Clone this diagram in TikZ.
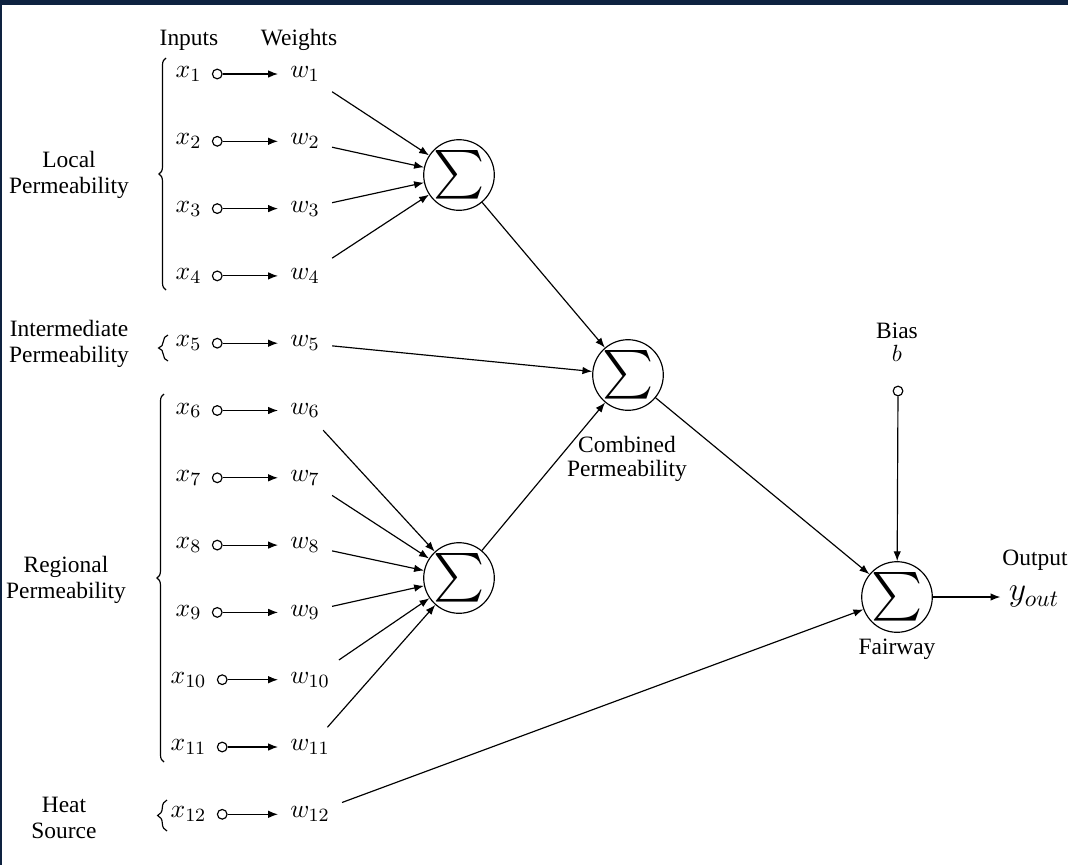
\documentclass[tikz,border=0pt]{standalone}
\usepackage[no-math]{fontspec}
\setmainfont{Liberation Serif}
\usepackage{amsmath}
\usepackage{exscale}
\usepackage{tikz}
\usetikzlibrary{arrows.meta, positioning, decorations.pathreplacing}
\definecolor{Frame_Navy}{HTML}{0E2240}

\begin{document}
\begin{tikzpicture}[x=0.015cm, y=-0.015cm, >={Latex[length=4.2pt,width=3.2pt]}, line width=0.5pt,
    sumnode/.style={draw, circle, minimum size=1.05cm, inner sep=0pt, font=\fontsize{19.5}{19.5}\selectfont},
    dot/.style={draw, circle, minimum size=0.145cm, inner sep=0pt},
    inp/.style={inner sep=1pt, font=\fontsize{11}{13}\selectfont},
    wgt/.style={anchor=west, inner sep=5pt, font=\fontsize{11}{13}\selectfont},
    lbl/.style={align=center, font=\fontsize{10}{11}\selectfont},
    grp/.style={decorate, decoration={brace, amplitude=3pt}}]
    \useasboundingbox (0,0) rectangle (1068,865);
    % Frame
    \fill[Frame_Navy] (0,0) rectangle (1068,5);
    \fill[Frame_Navy] (0,0) rectangle (2,865);
    % Headers
    \node (hin) at (189,40) {Inputs};
    \node (hw) at (299,40) {Weights};
    % Inputs and weights
    \node[inp] (x1) at (188.5,74.0) {$x_1$}; \node[dot, right=3.2pt of x1] (d1) {}; \node[wgt] (w1) at (278,74.0) {$w_1$}; \draw[->] (d1) -- (w1);
    \node[inp] (x2) at (188.5,141.3) {$x_2$}; \node[dot, right=3.2pt of x2] (d2) {}; \node[wgt] (w2) at (278,141.3) {$w_2$}; \draw[->] (d2) -- (w2);
    \node[inp] (x3) at (188.5,208.6) {$x_3$}; \node[dot, right=3.2pt of x3] (d3) {}; \node[wgt] (w3) at (278,208.6) {$w_3$}; \draw[->] (d3) -- (w3);
    \node[inp] (x4) at (188.5,275.9) {$x_4$}; \node[dot, right=3.2pt of x4] (d4) {}; \node[wgt] (w4) at (278,275.9) {$w_4$}; \draw[->] (d4) -- (w4);
    \node[inp] (x5) at (188.5,343.2) {$x_5$}; \node[dot, right=3.2pt of x5] (d5) {}; \node[wgt] (w5) at (278,343.2) {$w_5$}; \draw[->] (d5) -- (w5);
    \node[inp] (x6) at (188.5,410.5) {$x_6$}; \node[dot, right=3.2pt of x6] (d6) {}; \node[wgt] (w6) at (278,410.5) {$w_6$}; \draw[->] (d6) -- (w6);
    \node[inp] (x7) at (188.5,477.8) {$x_7$}; \node[dot, right=3.2pt of x7] (d7) {}; \node[wgt] (w7) at (278,477.8) {$w_7$}; \draw[->] (d7) -- (w7);
    \node[inp] (x8) at (188.5,545.1) {$x_8$}; \node[dot, right=3.2pt of x8] (d8) {}; \node[wgt] (w8) at (278,545.1) {$w_8$}; \draw[->] (d8) -- (w8);
    \node[inp] (x9) at (188.5,612.4) {$x_9$}; \node[dot, right=3.2pt of x9] (d9) {}; \node[wgt] (w9) at (278,612.4) {$w_9$}; \draw[->] (d9) -- (w9);
    \node[inp] (x10) at (188.5,679.7) {$x_{10}$}; \node[dot, right=3.2pt of x10] (d10) {}; \node[wgt] (w10) at (278,679.7) {$w_{10}$}; \draw[->] (d10) -- (w10);
    \node[inp] (x11) at (188.5,747.0) {$x_{11}$}; \node[dot, right=3.2pt of x11] (d11) {}; \node[wgt] (w11) at (278,747.0) {$w_{11}$}; \draw[->] (d11) -- (w11);
    \node[inp] (x12) at (188.5,814.3) {$x_{12}$}; \node[dot, right=3.2pt of x12] (d12) {}; \node[wgt] (w12) at (278,814.3) {$w_{12}$}; \draw[->] (d12) -- (w12);
    % Groups
    \draw[grp] (166,290) -- (166,58);
    \draw[grp, decoration={amplitude=4pt}] (168,361) -- (168,335);
    \draw[grp] (164,762) -- (164,394);
    \draw[grp, decoration={amplitude=4pt}] (167,831) -- (167,800);
    \node[lbl] (local) at (69,175) {Local\\Permeability};
    \node[lbl] (inter) at (69,344) {Intermediate\\Permeability};
    \node[lbl] (regional) at (66,580) {Regional\\Permeability};
    \node[lbl] (heat) at (64,818) {Heat\\Source};
    % Summing nodes
    \node[sumnode] (sum1) at (459,175) {$\sum$};
    \node[sumnode] (sum2) at (628,375) {$\sum$};
    \node[sumnode] (sum3) at (459,578) {$\sum$};
    \node[sumnode] (sum4) at (897,597) {$\sum$};
    \node[lbl] (comb) at (627,459) {Combined\\[-1pt]Permeability};
    \node[lbl] (fair) at (897,649) {Fairway};
    % Weighted connections
    \draw[->] (w1) -- (sum1); \draw[->] (w2) -- (sum1);
    \draw[->] (w3) -- (sum1); \draw[->] (w4) -- (sum1);
    \draw[->] (w5) -- (sum2);
    \draw[->] (w6) -- (sum3); \draw[->] (w7) -- (sum3);
    \draw[->] (w8) -- (sum3); \draw[->] (w9) -- (sum3);
    \draw[->] (w10) -- (sum3); \draw[->] (w11) -- (sum3);
    \draw[->] (w12) -- (sum4);
    \draw[->] (sum1) -- (sum2);
    \draw[->] (sum3) -- (sum2);
    \draw[->] (sum2) -- (sum4);
    % Bias and output
    \node[lbl] (biaslbl) at (897,342) {Bias\\[-1pt]$b$};
    \node[dot] (bias) at (898,391) {};
    \draw[->] (bias) -- (sum4);
    \node (outlbl) at (1035,560) {Output};
    \node (yout) at (1034,597) {\Large$y_{out}$};
    \draw[->] (sum4) -- (yout);
\end{tikzpicture}
\end{document}
